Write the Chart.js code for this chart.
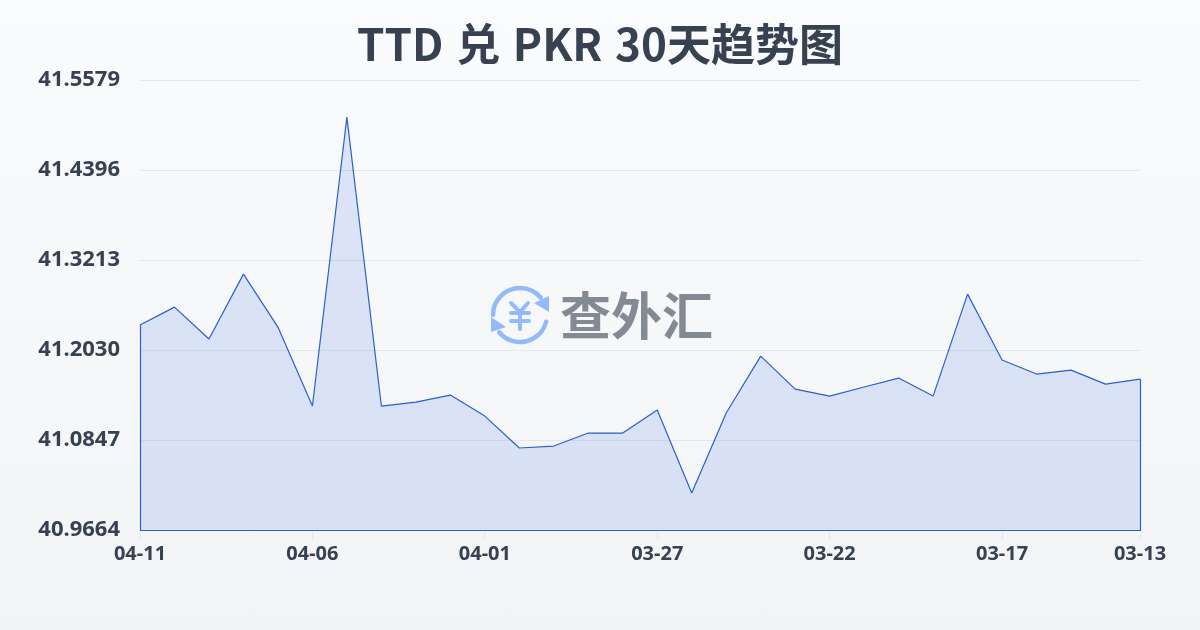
<!DOCTYPE html>
<html>
<head>
<meta charset="utf-8">
<title>TTD 兑 PKR 30天趋势图</title>
<script src="https://cdn.jsdelivr.net/npm/chart.js@4"></script>
<style>
    html, body { margin: 0; padding: 0; }
    body { width: 1200px; height: 630px; overflow: hidden; background: linear-gradient(180deg, #f9fbfd 0%, #f3f4f6 100%); }
    canvas { display: block; }
</style>
</head>
<body>
<canvas id="rateChart" width="1200" height="630"></canvas>
<script>
const chartTitle = 'TTD 兑 PKR 30天趋势图';
const watermarkText = '查外汇';

const dates = [
    '04-11', '04-10', '04-09', '04-08', '04-07', '04-06', '04-05', '04-04', '04-03', '04-02',
    '04-01', '03-31', '03-30', '03-29', '03-28', '03-27', '03-26', '03-25', '03-24', '03-23',
    '03-22', '03-21', '03-20', '03-19', '03-18', '03-17', '03-16', '03-15', '03-14', '03-13'
];
const rates = [
    41.2359, 41.2595, 41.2175, 41.3029, 41.2332, 41.1294, 41.5093, 41.1294, 41.1346, 41.1438,
    41.1162, 41.0742, 41.0768, 41.0939, 41.0939, 41.1241, 41.0150, 41.1202, 41.1951, 41.1517,
    41.1425, 41.1544, 41.1662, 41.1425, 41.2766, 41.1899, 41.1715, 41.1767, 41.1583, 41.1649
];
const yTicks = [41.5579, 41.4396, 41.3213, 41.2030, 41.0847, 40.9664];
const xTickLabels = ['04-11', '04-06', '04-01', '03-27', '03-22', '03-17', '03-13'];

const lineColor = '#2b5fc9';

// closes the area: left, bottom and right edges in the line colour
const areaEdges = {
    id: 'areaEdges',
    beforeDraw(chart) {
        chart.ctx.wordSpacing = '2.7px'; // title spaces are a bit wider in the original
    },
    afterDatasetsDraw(chart) {
        const { ctx, chartArea } = chart;
        ctx.save();
        ctx.strokeStyle = lineColor;
        ctx.lineWidth = 1.2;
        ctx.beginPath();
        ctx.moveTo(chartArea.left + 0.5, chart.scales.y.getPixelForValue(rates[0]));
        ctx.lineTo(chartArea.left + 0.5, chartArea.bottom + 0.5);
        ctx.lineTo(chartArea.right + 0.5, chartArea.bottom + 0.5);
        ctx.lineTo(chartArea.right + 0.5, chart.scales.y.getPixelForValue(rates[rates.length - 1]));
        ctx.stroke();
        ctx.restore();
    }
};

// logo in the middle of the plot
const watermark = {
    id: 'watermark',
    afterDatasetsDraw(chart) {
        const { ctx } = chart;
        const cx = 520, cy = 315, r = 27;
        ctx.save();
        ctx.strokeStyle = '#93bbfb';
        ctx.fillStyle = '#93bbfb';
        ctx.lineWidth = 4.5;
        ctx.lineCap = 'round';

        ctx.beginPath();
        ctx.arc(cx, cy, r, Math.PI * 1.0, Math.PI * 1.78);
        ctx.stroke();
        ctx.beginPath();
        ctx.arc(cx, cy, r, Math.PI * 0.08, Math.PI * 0.78);
        ctx.stroke();

        ctx.beginPath();
        ctx.moveTo(549, 296);
        ctx.lineTo(549, 312);
        ctx.lineTo(534, 303);
        ctx.closePath();
        ctx.fill();
        ctx.beginPath();
        ctx.moveTo(491, 317);
        ctx.lineTo(491, 332);
        ctx.lineTo(506, 327);
        ctx.closePath();
        ctx.fill();

        ctx.lineWidth = 4;
        ctx.beginPath();
        ctx.moveTo(511, 303);
        ctx.lineTo(520, 312);
        ctx.lineTo(528, 303);
        ctx.moveTo(520, 312);
        ctx.lineTo(520, 329);
        ctx.moveTo(511, 313);
        ctx.lineTo(529, 313);
        ctx.moveTo(511, 321);
        ctx.lineTo(529, 321);
        ctx.stroke();

        ctx.fillStyle = '#848a94';
        ctx.font = '700 51px "Noto Sans CJK SC"';
        ctx.textAlign = 'left';
        ctx.textBaseline = 'middle';
        ctx.fillText(watermarkText, 560, 316);
        ctx.restore();
    }
};

const ctx = document.getElementById('rateChart').getContext('2d');

new Chart(ctx, {
    type: 'line',
    data: {
        labels: dates,
        datasets: [{
            data: rates,
            borderColor: lineColor,
            borderWidth: 1.2,
            borderJoinStyle: 'bevel',
            backgroundColor: 'rgba(59, 108, 224, 0.15)',
            fill: 'start',
            tension: 0,
            pointRadius: 0
        }]
    },
    options: {
        responsive: false,
        animation: false,
        plugins: {
            legend: { display: false },
            tooltip: { enabled: false },
            title: {
                display: true,
                text: chartTitle,
                color: '#374151',
                font: { family: '"Noto Sans CJK SC"', size: 44, weight: '700', lineHeight: 1.2 },
                padding: { top: 18, bottom: 9.4 }
            }
        },
        scales: {
            x: {
                offset: false,
                border: { display: false },
                grid: {
                    drawOnChartArea: false,
                    drawTicks: true,
                    tickLength: 10,
                    tickColor: c => xTickLabels.includes(dates[c.index]) ? '#e5e7eb' : 'transparent'
                },
                afterFit(scale) { scale.height = 100; },
                ticks: {
                    autoSkip: false,
                    maxRotation: 0,
                    padding: 2,
                    color: '#374151',
                    font: { family: '"Noto Sans"', size: 20, weight: '700' },
                    callback(value) {
                        const label = this.getLabelForValue(value);
                        return xTickLabels.includes(label) ? label : '';
                    }
                }
            },
            y: {
                min: yTicks[yTicks.length - 1],
                max: yTicks[0],
                border: { display: false },
                grid: { drawTicks: false, color: '#e5e7eb' },
                afterBuildTicks(scale) { scale.ticks = yTicks.map(v => ({ value: v })); },
                afterFit(scale) { scale.width = 140; },
                ticks: {
                    padding: 20,
                    color: '#374151',
                    font: { family: '"Noto Sans"', size: 22, weight: '700' },
                    callback: value => value.toFixed(4)
                }
            },
            // empty axis on the right, keeps the title centred on the whole page
            spacer: {
                position: 'right',
                display: true,
                border: { display: false },
                grid: { display: false },
                ticks: { display: false },
                afterFit(scale) { scale.width = 60; }
            }
        }
    },
    plugins: [areaEdges, watermark]
});
</script>
</body>
</html>
